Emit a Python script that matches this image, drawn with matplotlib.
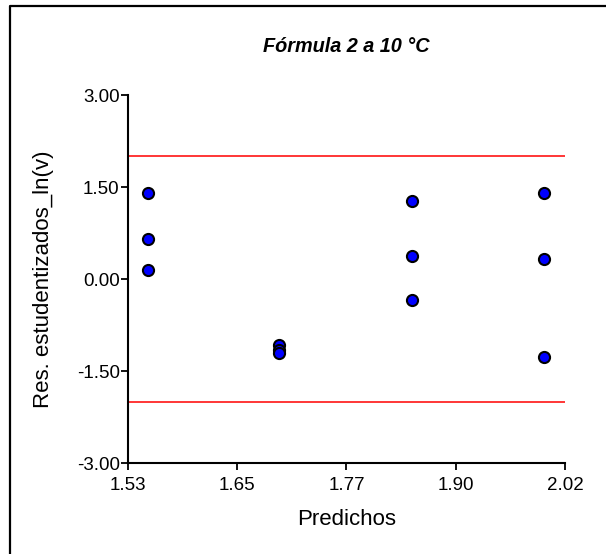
import numpy as np
import matplotlib.pyplot as plt
from matplotlib.lines import Line2D

plt.rcParams['font.family'] = ['Liberation Sans', 'DejaVu Sans']

# Datos
predichos = [1.552, 1.552, 1.552,
             1.699, 1.699, 1.699,
             1.849, 1.849, 1.849,
             1.997, 1.997, 1.997]
residuos = [1.41, 0.65, 0.15,
            -1.08, -1.15, -1.21,
            1.27, 0.38, -0.35,
            1.41, 0.33, -1.27]
limites = [2.0, -2.0]
xticks = [1.53, 1.6525, 1.775, 1.8975, 2.02]
xtick_labels = ['1.53', '1.65', '1.77', '1.90', '2.02']
yticks = [-3.0, -1.5, 0.0, 1.5, 3.0]
ytick_labels = ['-3.00', '-1.50', '0.00', '1.50', '3.00']

W, H = 606, 554
fig = plt.figure(figsize=(W / 100, H / 100), dpi=100)
ax = fig.add_axes([128 / W, (H - 463) / H, (565 - 128) / W, (463 - 95) / H])

# marco exterior (solo borde izquierdo y superior visibles)
fig.lines.append(Line2D([9.5 / W, 9.5 / W, 1.0], [0.0, (H - 6) / H, (H - 6) / H],
                        transform=fig.transFigure, color='black', linewidth=1.6))

for y in limites:
    ax.axhline(y, color='red', linewidth=1.1, zorder=1)

ax.plot(predichos, residuos, 'o', markersize=8, markerfacecolor='#0000ff',
        markeredgecolor='black', markeredgewidth=1.5, clip_on=False, zorder=3)

ax.set_xlim(1.53, 2.02)
ax.set_ylim(-3.0, 3.0)
ax.set_xticks(xticks)
ax.set_xticklabels(xtick_labels)
ax.set_yticks(yticks)
ax.set_yticklabels(ytick_labels)
ax.tick_params(direction='out', length=5, width=1.3, labelsize=13.5,
               colors='black')
ax.tick_params(axis='y', pad=1)
ax.tick_params(axis='x', pad=5)
ax.spines['top'].set_visible(False)
ax.spines['right'].set_visible(False)
for s in ['left', 'bottom']:
    ax.spines[s].set_linewidth(1.5)

ax.set_xlabel('Predichos', fontsize=16, labelpad=11)
ax.set_ylabel('Res. estudentizados_ln(v)', fontsize=16, labelpad=16)
fig.text(346 / W, (H - 47) / H, 'Fórmula 2 a 10 °C', fontsize=14.3,
         fontweight='bold', fontstyle='italic', ha='center', va='center')

fig.savefig('out.png', dpi=100)
